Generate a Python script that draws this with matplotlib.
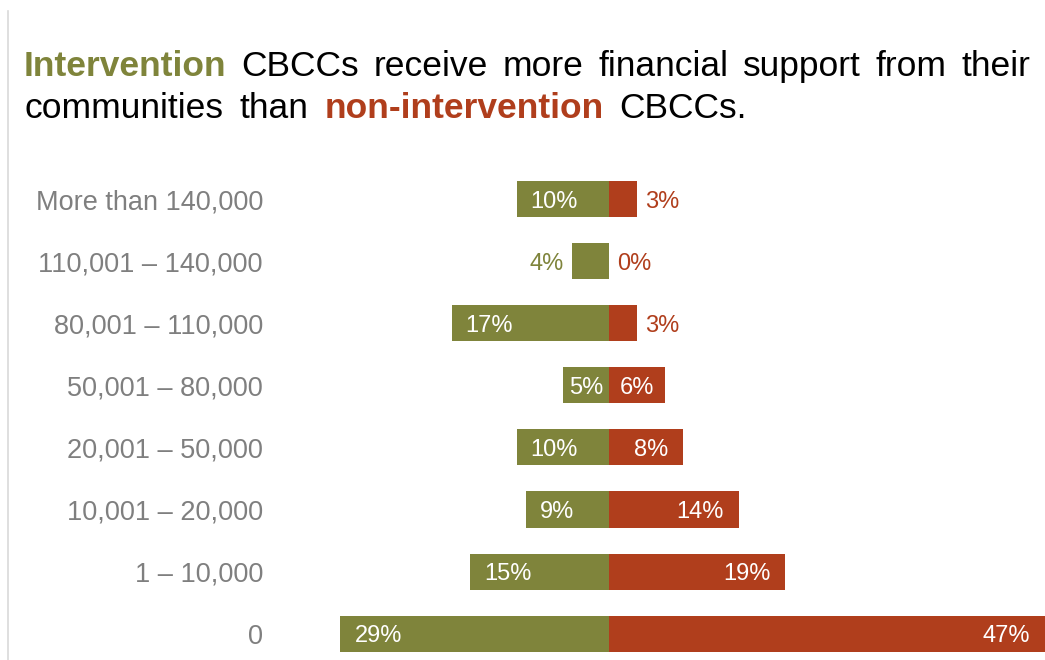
import matplotlib
matplotlib.use("Agg")
import matplotlib.pyplot as plt
from matplotlib.lines import Line2D

# ---- data ---------------------------------------------------------------
categories = [
    "More than 140,000",
    "110,001 \u2013 140,000",
    "80,001 \u2013 110,000",
    "50,001 \u2013 80,000",
    "20,001 \u2013 50,000",
    "10,001 \u2013 20,000",
    "1 \u2013 10,000",
    "0",
]
intervention = [10, 4, 17, 5, 10, 9, 15, 29]        # % of intervention CBCCs
non_intervention = [3, 0, 3, 6, 8, 14, 19, 47]      # % of non-intervention CBCCs

# ---- style --------------------------------------------------------------
GREEN = "#7F843B"
RED = "#B03E1C"
GREY = "#7F7F7F"
FONT = "Liberation Sans"
plt.rcParams["font.family"] = [FONT, "DejaVu Sans"]

W, H, DPI = 1045, 660, 100
fig = plt.figure(figsize=(W / DPI, H / DPI), dpi=DPI)

# axes geometry (pixels)
ax_left, ax_top = 290, 168
center_px = 609.3
xmax = 47.0
scale = (W - center_px) / xmax
xmin = -(center_px - ax_left) / scale
ax = fig.add_axes([ax_left / W, 0, (W - ax_left) / W, (H - ax_top) / H])

n = len(categories)
ypos = list(range(n))
bar_h = 0.58
ax.barh(ypos, [-v for v in intervention], height=bar_h, color=GREEN, linewidth=0)
ax.barh(ypos, non_intervention, height=bar_h, color=RED, linewidth=0)

ax.set_xlim(xmin, xmax)
ax.set_ylim(n - 1 + 0.424, -0.5)
for s in ax.spines.values():
    s.set_visible(False)
ax.set_xticks([])
ax.set_yticks(ypos)
ax.set_yticklabels(categories, fontsize=19.5, color=GREY, family=FONT)
ax.tick_params(axis="y", length=0, pad=27 * 0.72)

# ---- value labels -------------------------------------------------------
renderer = fig.canvas.get_renderer()
PAD = 15       # px from bar end when label sits inside
GAP = 8        # px from bar end when label sits outside
LBL = 17
VA = "center_baseline"


def text_width(s):
    t = fig.text(0, 0, s, fontsize=LBL, family=FONT)
    w = t.get_window_extent(renderer).width
    t.remove()
    return w


for i, (g, r) in enumerate(zip(intervention, non_intervention)):
    # green, extending left
    s = f"{g}%"
    tw = text_width(s)
    bw = g * scale
    if bw >= tw + 2 * PAD:
        ax.annotate(s, (-g, i), xytext=(14 * 0.72, 0), textcoords="offset points",
                    ha="left", va=VA, color="white", fontsize=LBL)
    elif bw >= tw + 10:
        ax.annotate(s, (-g / 2, i), ha="center", va=VA, color="white", fontsize=LBL)
    else:
        ax.annotate(s, (-g, i), xytext=(-GAP * 0.72, 0), textcoords="offset points",
                    ha="right", va=VA, color=GREEN, fontsize=LBL)
    # red, extending right
    s = f"{r}%"
    tw = text_width(s)
    bw = r * scale
    if bw >= tw + 2 * PAD:
        ax.annotate(s, (r, i), xytext=(-PAD * 0.72, 0), textcoords="offset points",
                    ha="right", va=VA, color="white", fontsize=LBL)
    elif bw >= tw + 10:
        ax.annotate(s, (r / 2, i), ha="center", va=VA, color="white", fontsize=LBL)
    else:
        ax.annotate(s, (r, i), xytext=(GAP * 0.72, 0), textcoords="offset points",
                    ha="left", va=VA, color=RED, fontsize=LBL)

# ---- title, laid out word by word ----------------------------------------
TS = 25.5
line1 = [("Intervention", GREEN, "bold"), ("CBCCs", "black", "normal"),
         ("receive", "black", "normal"), ("more", "black", "normal"),
         ("financial", "black", "normal"), ("support", "black", "normal"),
         ("from", "black", "normal"), ("their", "black", "normal")]
line2 = [("communities", "black", "normal"), ("than", "black", "normal"),
         ("non-intervention", RED, "bold"), ("CBCCs.", "black", "normal")]


def word_widths(words):
    out = []
    for w, c, fw in words:
        t = fig.text(0, 0, w, fontsize=TS, fontweight=fw, family=FONT)
        out.append(t.get_window_extent(renderer).width)
        t.remove()
    return out


x0, x1 = 24, 1030
w1 = word_widths(line1)
gap = (x1 - x0 - sum(w1)) / (len(line1) - 1)


def place(words, widths, baseline_px, gap):
    x = x0
    for (w, c, fw), ww in zip(words, widths):
        fig.text(x / W, 1 - baseline_px / H, w, fontsize=TS, fontweight=fw,
                 color=c, family=FONT, ha="left", va="baseline")
        x += ww + gap


place(line1, w1, 76, gap)
place(line2, word_widths(line2), 118, gap + 1.5)

# thin rule along the left edge
fig.add_artist(Line2D([7.5 / W, 7.5 / W], [0, 1 - 11 / H], color="#D9D9D9",
                      linewidth=1.2, transform=fig.transFigure))

fig.savefig("out.png", dpi=DPI)
